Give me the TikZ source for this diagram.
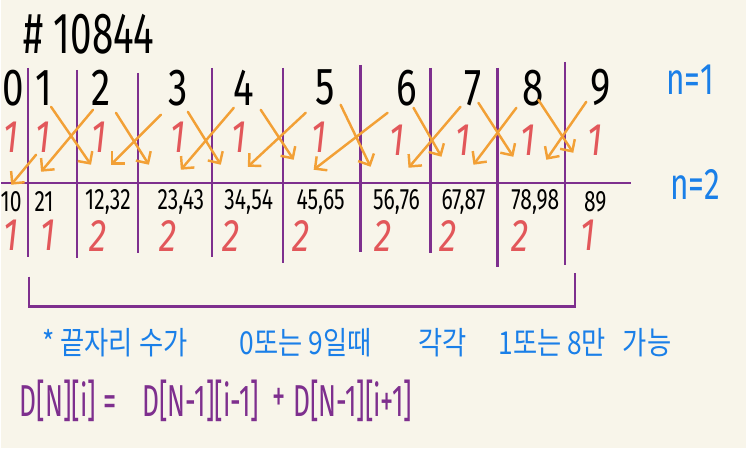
\documentclass[tikz,border=0pt]{standalone}
\usepackage{graphicx}
\usepackage{fontspec}
\setmainfont{Fira Sans}
\newfontfamily\kfont{Noto Sans CJK KR}
\usetikzlibrary{arrows.meta}
\definecolor{paper}{HTML}{F8F5EA}
\definecolor{lilac}{HTML}{7E2F8E}
\definecolor{amber}{HTML}{F2A036}
\definecolor{rose}{HTML}{E2575A}
\definecolor{sky}{HTML}{1A7FE8}
\newcommand{\hand}[2][1.5]{\scalebox{1}[#1]{#2}}

\begin{document}
\begin{tikzpicture}[x=0.02cm,y=-0.02cm,
  every node/.style={inner sep=0pt},
  wall/.style={lilac,line width=1.3pt},
  hop/.style={amber,line width=1.4pt,line cap=round,-{Straight Barb[length=5pt,width=10pt]}},
  digit/.style={font=\fontsize{22}{22}\selectfont},
  cnt/.style={rose,font=\fontsize{20}{20}\selectfont\itshape},
  pair/.style={font=\fontsize{12}{12}\selectfont},
  tag/.style={sky,font=\fontsize{18}{18}\selectfont},
  note/.style={sky,font=\fontsize{15}{15}\kfont},
  rule/.style={lilac,font=\fontsize{15}{15}\selectfont}]
\fill[paper] (0,0) rectangle (746,449);

\node[font=\fontsize{22}{22}\selectfont] (title) at (88,34) {\hand{\# 10844}};

\foreach \x/\t/\b in {27/68/257,76/70/258,137/73/253,211/68/257,282/68/263,
  360/65/252,430/68/253,497/68/267,565/62/265}
  \draw[wall] (\x,\t) -- (\x,\b);
\draw[wall] (0,183) -- (631,183);
\draw[wall] (28,277) -- (28,307) -- (575,307) -- (575,273);

\foreach \i/\x in {0/12,1/43,2/100,3/177,4/243,5/325,6/406,7/473,8/533,9/600}
  \node[digit] (d\i) at (\x,88) {\hand[1.35]{\i}};
\foreach \i/\x/\y in {0/10/137,1/42/137,2/98/137,3/177/137,4/238/137,
  5/318/137,6/396/140,7/463/140,8/528/140,9/595/140}
  \node[cnt] (r\i) at (\x,\y) {\hand[1.3]{1}};

\foreach \n/\sx/\sy/\ex/\ey in {10/35/155/10/185,12/50/107/90/165,21/92/110/40/172,
  23/115/113/148/165,32/160/115/110/165,34/187/112/220/165,43/233/108/180/170,
  45/260/110/293/160,54/305/113/247/167,56/340/105/370/167,65/387/113/313/170,
  67/413/108/441/157,76/460/107/408/168,78/478/103/513/157,87/516/108/473/165,
  89/538/100/573/153,98/586/102/546/160}{
  \coordinate (s\n) at (\sx,\sy);
  \coordinate (e\n) at (\ex,\ey);
  \draw[hop] (s\n) -- (e\n);
}

\foreach \i/\x/\t in {0/10/10,1/43/21,2/107/{12,32},3/180/{23,43},4/248/{34,54},
  5/320/{45,65},6/396/{56,76},7/463/{67,87},8/535/{78,98},9/595/89}
  \node[pair] (p\i) at (\x,202) {\hand[1.4]{\t}};
\foreach \i/\x/\v in {0/10/1,1/47/1,2/97/2,3/167/2,4/230/2,
  5/300/2,6/383/2,7/448/2,8/520/2,9/588/1}
  \node[cnt] (c\i) at (\x,236) {\hand[1.3]{\v}};

\node[tag] (n1) at (690,80) {\hand[1.4]{n=1}};
\node[tag] (n2) at (695,185) {\hand[1.4]{n=2}};

\node[note] (k1) at (114,343) {\hand[1.2]{* 끝자리 수가}};
\node[note] (k2) at (305,343) {\hand[1.2]{0또는 9일때}};
\node[note] (k3) at (442,343) {\hand[1.2]{각각}};
\node[note] (k4) at (552,343) {\hand[1.2]{1또는 8만}};
\node[note] (k5) at (647,343) {\hand[1.2]{가능}};

\node[rule] (f1) at (67,401) {\hand[1.7]{D[N][i] =}};
\node[rule] (f2) at (200,401) {\hand[1.7]{D[N-1][i-1]}};
\node[rule] (f3) at (278,401) {\hand[1.7]{+}};
\node[rule] (f4) at (352,401) {\hand[1.7]{D[N-1][i+1]}};
\end{tikzpicture}
\end{document}
